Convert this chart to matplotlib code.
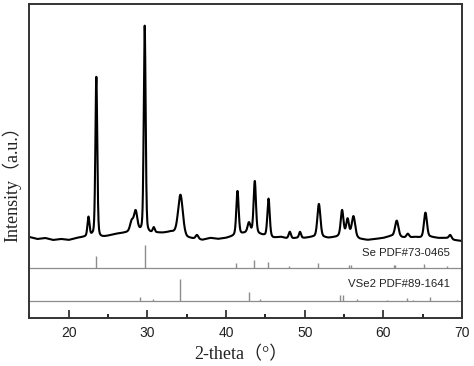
import numpy as np
import matplotlib
matplotlib.use("Agg")
import matplotlib.pyplot as plt
from matplotlib.ticker import MultipleLocator

# XRD pattern: peaks (2theta, height above background, fwhm)
peak_pos = [22.5, 23.5, 28.0, 28.5, 29.65, 30.8, 34.2, 36.3, 41.45, 42.9, 43.65,
            45.4, 48.1, 49.4, 51.8, 54.75, 55.45, 56.2, 61.7, 63.1, 65.35, 68.5]
peak_height = [19, 160, 10, 20, 208, 5, 40, 4, 44, 9, 52,
               38, 7, 6, 33, 25, 16, 20, 16, 4, 25, 4]
peak_fwhm = [0.3, 0.28, 0.5, 0.5, 0.28, 0.3, 0.7, 0.4, 0.35, 0.4, 0.35,
             0.35, 0.35, 0.3, 0.45, 0.4, 0.4, 0.5, 0.5, 0.4, 0.45, 0.4]

# background level read every ~1 degree
bg_theta = [15, 16, 17, 18, 19, 20, 21, 22, 23, 24, 25, 26, 27, 28, 29, 30, 31, 32,
            33, 34, 35, 36, 37, 38, 39, 40, 41, 42, 43, 44, 45, 46, 47, 48, 49, 50,
            51, 52, 53, 54, 55, 56, 57, 58, 59, 60, 61, 62, 63, 64, 65, 66, 67, 68,
            69, 70]
bg_level = [81, 79, 80, 78, 79, 78, 80, 81, 82, 80, 82, 84, 85, 86, 86, 84, 85, 85,
            86, 84, 80, 79, 78, 80, 79, 80, 82, 84, 86, 84, 82, 80, 81, 79, 80, 80,
            81, 81, 80, 81, 83, 82, 79, 78, 79, 80, 82, 81, 80, 81, 80, 81, 80, 80,
            78, 77]

# standard cards (stick positions and heights)
se_pos = [23.5, 29.7, 41.3, 43.6, 45.35, 48.0, 51.7, 55.6, 55.9, 61.3, 61.5, 65.2, 68.1]
se_height = [12, 23, 5, 8, 6, 2, 5, 3, 3, 3, 3, 4, 2]
vse2_pos = [29.1, 30.7, 34.1, 42.9, 44.3, 54.5, 54.85, 56.7, 60.4, 63.05, 63.8, 65.9, 69.3]
vse2_height = [4.5, 2, 22, 9.5, 2, 6, 6, 2, 1.5, 3, 1.5, 4, 1.5]

se_base = 50
vse2_base = 17
eta = 0.3  # lorentzian fraction of the peak shape

theta = np.arange(15, 70.001, 0.02)
intensity = np.interp(theta, bg_theta, bg_level)
for p, h, w in zip(peak_pos, peak_height, peak_fwhm):
    g = (w / 2) ** 2
    lor = g / ((theta - p) ** 2 + g)
    gau = np.exp(-4 * np.log(2) * (theta - p) ** 2 / w ** 2)
    intensity = intensity + h * (eta * lor + (1 - eta) * gau)

fig = plt.figure(figsize=(4.74, 3.66), dpi=100)
ax = fig.add_axes([0.0622, 0.1311, 0.9125, 0.8579])

ax.plot(theta, intensity, color="black", lw=1.5)

ax.axhline(se_base, color="#8c8c8c", lw=0.9)
ax.axhline(vse2_base, color="#8c8c8c", lw=0.9)
ax.vlines(se_pos, se_base, [se_base + h for h in se_height], color="#8c8c8c", lw=1.0)
ax.vlines(vse2_pos, vse2_base, [vse2_base + h for h in vse2_height], color="#8c8c8c", lw=1.0)

ax.text(68.5, se_base + 15, "Se PDF#73-0465", ha="right", va="center",
        fontsize=8.2, family="Liberation Sans", color="#222222")
ax.text(68.5, vse2_base + 17, "VSe2 PDF#89-1641", ha="right", va="center",
        fontsize=8.2, family="Liberation Sans", color="#222222")

ax.set_xlim(15, 70)
ax.set_ylim(0, 314)
ax.set_yticks([])
ax.xaxis.set_major_locator(MultipleLocator(10))
ax.xaxis.set_minor_locator(MultipleLocator(5))
ax.tick_params(axis="x", which="major", direction="in", length=6, width=1.2,
               pad=6, labelsize=10, colors="#222222")
ax.tick_params(axis="x", which="minor", direction="in", length=3, width=1.2)
for lab in ax.get_xticklabels():
    lab.set_family("Liberation Sans")
for s in ax.spines.values():
    s.set_linewidth(1.4)
    s.set_color("#333333")

fig.text(241 / 474, 1 - 355 / 366, "2-theta（°）", ha="center", va="center",
         fontsize=13, family=["Liberation Serif", "Noto Sans CJK SC"], color="#222222")
fig.text(12 / 474, 1 - 180 / 366, "Intensity（a.u.）", ha="center", va="center",
         rotation=90, fontsize=13, family=["Liberation Serif", "Noto Sans CJK SC"],
         color="#222222")

fig.savefig("out.png", dpi=100)
